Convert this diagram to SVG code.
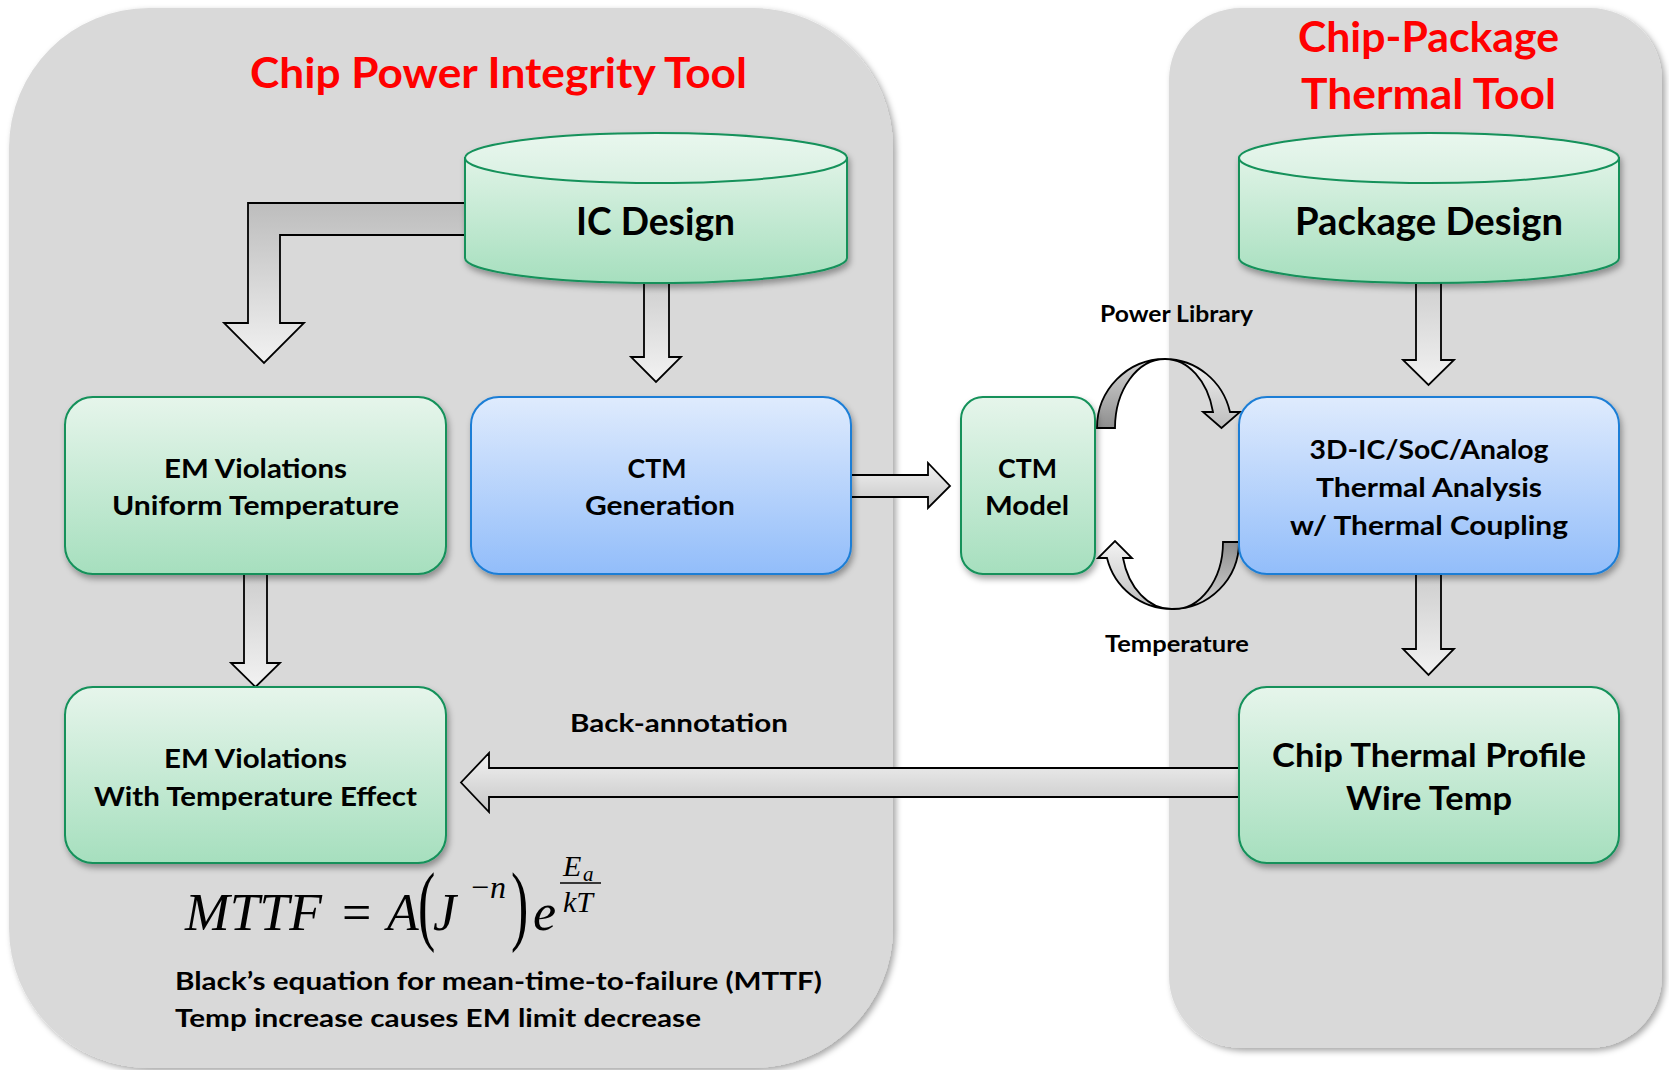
<svg xmlns="http://www.w3.org/2000/svg" width="1669" height="1070" viewBox="0 0 1669 1070">
<style>
.t{font-family:Lato,"Open Sans","Liberation Sans",sans-serif;font-weight:700;fill:#000}
.title{fill:#ff0000}
.panel{fill:#d9d9d9}
.gbox{fill:url(#gGreen);stroke:#12915a;stroke-width:2}
.bbox{fill:url(#gBlue);stroke:#1c7ed6;stroke-width:2}
.arrow{stroke:#000;stroke-width:1.8;stroke-linejoin:miter}
.math{font-family:"Liberation Serif","Times New Roman",serif;font-style:italic;fill:#000}
.up{font-style:normal}
</style>
<defs>
<linearGradient id="gGreen" x1="0" y1="0" x2="0" y2="1"><stop offset="0" stop-color="#e6f5eb"/><stop offset="1" stop-color="#a6dfbe"/></linearGradient>
<linearGradient id="gBlue" x1="0" y1="0" x2="0" y2="1"><stop offset="0" stop-color="#dfebfd"/><stop offset="1" stop-color="#92bdfa"/></linearGradient>
<linearGradient id="gCylTop" x1="0" y1="0" x2="0" y2="1"><stop offset="0" stop-color="#e9f7ee"/><stop offset="1" stop-color="#d9f0e2"/></linearGradient>
<linearGradient id="gCyl" x1="0" y1="0" x2="0" y2="1"><stop offset="0" stop-color="#dff3e6"/><stop offset="1" stop-color="#a6dfbe"/></linearGradient>
<linearGradient id="gElbow" gradientUnits="userSpaceOnUse" x1="0" y1="203" x2="0" y2="363"><stop offset="0" stop-color="#bdbdbd"/><stop offset="1" stop-color="#f2f2f2"/></linearGradient>
<linearGradient id="gDown" x1="0" y1="0" x2="0" y2="1"><stop offset="0" stop-color="#cdcdcd"/><stop offset="1" stop-color="#f2f2f2"/></linearGradient>
<linearGradient id="gHoriz" x1="0" y1="0" x2="0" y2="1"><stop offset="0" stop-color="#f2f2f2"/><stop offset="1" stop-color="#c6c6c6"/></linearGradient>
<linearGradient id="gTail" x1="0" y1="0" x2="0" y2="1"><stop offset="0" stop-color="#d6d6d6"/><stop offset="1" stop-color="#8e8e8e"/></linearGradient>
<linearGradient id="gTail2" x1="0" y1="0" x2="0" y2="1"><stop offset="0" stop-color="#8e8e8e"/><stop offset="1" stop-color="#d6d6d6"/></linearGradient>
<linearGradient id="gHead" x1="0" y1="0" x2="0" y2="1"><stop offset="0" stop-color="#f4f4f4"/><stop offset="1" stop-color="#bcbcbc"/></linearGradient>
<filter id="sh" x="-10%" y="-10%" width="125%" height="135%"><feDropShadow dx="2" dy="4" stdDeviation="3" flood-color="#000" flood-opacity="0.35"/></filter>
<filter id="psh" x="-5%" y="-5%" width="115%" height="115%"><feDropShadow dx="3" dy="3" stdDeviation="3" flood-color="#000" flood-opacity="0.35"/></filter>
</defs>
<rect width="1669" height="1070" fill="#ffffff"/>

<g id="panel-left">
<rect class="panel" x="9" y="8" width="884" height="1060" rx="140" ry="140" filter="url(#psh)"/>
<text class="t title" x="498.5" y="88" font-size="42" text-anchor="middle" textLength="497" lengthAdjust="spacingAndGlyphs">Chip Power Integrity Tool</text>
</g>
<g id="panel-right">
<rect class="panel" x="1169" y="8" width="493" height="1040" rx="72" ry="72" filter="url(#psh)"/>
<text class="t title" x="1428.5" y="52" font-size="42" text-anchor="middle" textLength="261" lengthAdjust="spacingAndGlyphs">Chip-Package</text>
<text class="t title" x="1428.5" y="109" font-size="42" text-anchor="middle" textLength="255" lengthAdjust="spacingAndGlyphs">Thermal Tool</text>
</g>

<g id="connectors">
<path class="arrow" fill="url(#gElbow)" d="M472 203 L248 203 L248 323 L224 323 L264 363 L304 323 L280 323 L280 235 L472 235 Z"/>
<path class="arrow" fill="url(#gDown)" d="M644 276 L644 357 L631 357 L656 382 L681 357 L669 357 L669 276 Z"/>
<path class="arrow" fill="url(#gDown)" d="M244 572 L244 663 L231 663 L255.5 687 L280 663 L267 663 L267 572 Z"/>
<path class="arrow" fill="url(#gHoriz)" d="M849 475 L928 475 L928 463 L950 486 L928 508 L928 497 L849 497 Z"/>
<path class="arrow" fill="url(#gHoriz)" d="M1241 768 L489 768 L489 753 L461 782.5 L489 812 L489 797 L1241 797 Z"/>
<path class="arrow" fill="url(#gDown)" d="M1416 276 L1416 360 L1403 360 L1428.5 385 L1454 360 L1441 360 L1441 276 Z"/>
<path class="arrow" fill="url(#gDown)" d="M1416 572 L1416 649 L1403 649 L1428.5 675 L1454 649 L1441 649 L1441 572 Z"/>
<path class="arrow" fill="url(#gTail)" d="M1097 428 A68 69 0 0 1 1165 359 A50 69 0 0 0 1115 428 Z"/>
<path class="arrow" fill="url(#gHead)" d="M1165 359 A67 69 0 0 1 1230 412 L1240 412 L1221.5 428 L1203 412 L1213 412 A49 69 0 0 0 1165 359 Z"/>
<path class="arrow" fill="url(#gTail2)" d="M1239 542 A67 67 0 0 1 1172 609 A49 67 0 0 0 1223 542 Z"/>
<path class="arrow" fill="url(#gHead)" d="M1172 609 A67 67 0 0 1 1107 558 L1098 558 L1115 541 L1132 558 L1123 558 A50 67 0 0 0 1172 609 Z"/>
<text class="t" x="679" y="732" font-size="25" text-anchor="middle" textLength="218" lengthAdjust="spacingAndGlyphs">Back-annotation</text>
<text class="t" x="1176.5" y="322" font-size="22" text-anchor="middle" textLength="153" lengthAdjust="spacingAndGlyphs">Power Library</text>
<text class="t" x="1177" y="652" font-size="22" text-anchor="middle" textLength="144" lengthAdjust="spacingAndGlyphs">Temperature</text>
</g>

<g id="ic-design">
<g filter="url(#sh)">
<path fill="url(#gCyl)" stroke="#12915a" stroke-width="2" d="M465 158 L465 258 A191 25 0 0 0 847 258 L847 158 Z"/>
<ellipse cx="656" cy="158" rx="191" ry="25" fill="url(#gCylTop)" stroke="#12915a" stroke-width="2"/>
</g>
<text class="t" x="655.5" y="235" font-size="38" text-anchor="middle" textLength="159" lengthAdjust="spacingAndGlyphs">IC Design</text>
</g>

<g id="package-design">
<g filter="url(#sh)">
<path fill="url(#gCyl)" stroke="#12915a" stroke-width="2" d="M1239 158 L1239 258 A190 25 0 0 0 1619 258 L1619 158 Z"/>
<ellipse cx="1429" cy="158" rx="190" ry="25" fill="url(#gCylTop)" stroke="#12915a" stroke-width="2"/>
</g>
<text class="t" x="1429" y="235" font-size="38" text-anchor="middle" textLength="268" lengthAdjust="spacingAndGlyphs">Package Design</text>
</g>

<g id="em-uniform">
<rect class="gbox" x="65" y="397" width="381" height="177" rx="28" filter="url(#sh)"/>
<text class="t" x="255.5" y="478" font-size="27" text-anchor="middle" textLength="183" lengthAdjust="spacingAndGlyphs">EM Violations</text>
<text class="t" x="255.5" y="515" font-size="27" text-anchor="middle" textLength="287" lengthAdjust="spacingAndGlyphs">Uniform Temperature</text>
</g>

<g id="ctm-generation">
<rect class="bbox" x="471" y="397" width="380" height="177" rx="28" filter="url(#sh)"/>
<text class="t" x="657" y="478" font-size="27" text-anchor="middle" textLength="59" lengthAdjust="spacingAndGlyphs">CTM</text>
<text class="t" x="660" y="515" font-size="27" text-anchor="middle" textLength="150" lengthAdjust="spacingAndGlyphs">Generation</text>
</g>

<g id="ctm-model">
<rect class="gbox" x="961" y="397" width="134" height="177" rx="22" filter="url(#sh)"/>
<text class="t" x="1027.5" y="478" font-size="27" text-anchor="middle" textLength="59" lengthAdjust="spacingAndGlyphs">CTM</text>
<text class="t" x="1027" y="515" font-size="27" text-anchor="middle" textLength="84" lengthAdjust="spacingAndGlyphs">Model</text>
</g>

<g id="thermal-analysis">
<rect class="bbox" x="1239" y="397" width="380" height="177" rx="28" filter="url(#sh)"/>
<text class="t" x="1429" y="459" font-size="26" text-anchor="middle" textLength="239" lengthAdjust="spacingAndGlyphs">3D-IC/SoC/Analog</text>
<text class="t" x="1429" y="497" font-size="26" text-anchor="middle" textLength="226" lengthAdjust="spacingAndGlyphs">Thermal Analysis</text>
<text class="t" x="1429" y="535" font-size="26" text-anchor="middle" textLength="278" lengthAdjust="spacingAndGlyphs">w/ Thermal Coupling</text>
</g>

<g id="em-temperature">
<rect class="gbox" x="65" y="687" width="381" height="176" rx="28" filter="url(#sh)"/>
<text class="t" x="255.5" y="768" font-size="27" text-anchor="middle" textLength="183" lengthAdjust="spacingAndGlyphs">EM Violations</text>
<text class="t" x="255.5" y="806" font-size="27" text-anchor="middle" textLength="323" lengthAdjust="spacingAndGlyphs">With Temperature Effect</text>
</g>

<g id="chip-thermal-profile">
<rect class="gbox" x="1239" y="687" width="380" height="176" rx="28" filter="url(#sh)"/>
<text class="t" x="1429" y="767" font-size="32" text-anchor="middle" textLength="314" lengthAdjust="spacingAndGlyphs">Chip Thermal Profile</text>
<text class="t" x="1429" y="810" font-size="32" text-anchor="middle" textLength="166" lengthAdjust="spacingAndGlyphs">Wire Temp</text>
</g>

<g id="formula" class="math">
<text x="185" y="930" font-size="52" textLength="137" lengthAdjust="spacingAndGlyphs">MTTF</text>
<text class="up" x="342" y="930" font-size="52">=</text>
<text x="387" y="930" font-size="52">A</text>
<text class="up" transform="translate(418,934) scale(1,1.7)" font-size="52">(</text>
<text x="433" y="930" font-size="52">J</text>
<text class="up" x="471" y="898" font-size="32">−</text>
<text x="490" y="898" font-size="32">n</text>
<text class="up" transform="translate(511,934) scale(1,1.7)" font-size="52">)</text>
<text x="533" y="930" font-size="52">e</text>
<text x="563" y="876" font-size="30">E</text>
<text x="583" y="881" font-size="21">a</text>
<line x1="560" y1="883" x2="601" y2="883" stroke="#000" stroke-width="1.5"/>
<text x="563" y="912" font-size="30">kT</text>
</g>

<g id="caption">
<text class="t" x="175" y="990" font-size="25" textLength="647" lengthAdjust="spacingAndGlyphs">Black’s equation for mean-time-to-failure (MTTF)</text>
<text class="t" x="175" y="1027" font-size="25" textLength="526" lengthAdjust="spacingAndGlyphs">Temp increase causes EM limit decrease</text>
</g>
</svg>
